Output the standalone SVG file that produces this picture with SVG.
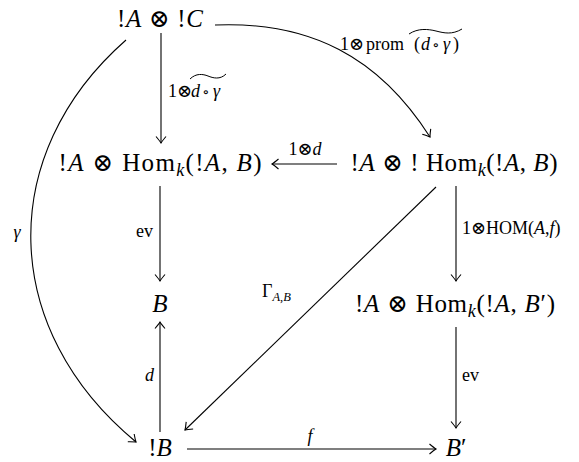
<svg xmlns="http://www.w3.org/2000/svg" width="579" height="462" viewBox="0 0 579 462">
<style>
text{font-family:"Liberation Serif","DejaVu Serif",serif;fill:#000}
.n{font-size:25px;text-anchor:middle}
.l{font-size:18px}
.i{font-style:italic}
.r{font-family:"DejaVu Serif",serif;font-size:15px}
.c path{fill:none;stroke:#000;stroke-width:1.1}
.t{fill:none;stroke:#000;stroke-width:1}
</style>
<defs>
<marker id="ah" markerUnits="userSpaceOnUse" markerWidth="14" markerHeight="14" viewBox="-8 -7 10 14" refX="0" refY="0" orient="auto">
<path d="M-6.5,-5 Q-2,-1.2 0,0 Q-2,1.2 -6.5,5" fill="none" stroke="#000" stroke-width="1.1"/>
</marker>
</defs>
<rect width="579" height="462" fill="#fff"/>
<g id="connectors" class="c">
<path d="M161,33 L161,143" marker-end="url(#ah)"/>
<path d="M337,164 L272,164" marker-end="url(#ah)"/>
<path d="M160,186 L160,281" marker-end="url(#ah)"/>
<path d="M160,432 L160,322" marker-end="url(#ah)"/>
<path d="M215,25 C310,21 379,57 430,137" marker-end="url(#ah)"/>
<path d="M456,186 L456,281" marker-end="url(#ah)"/>
<path d="M436,187 L185,430" marker-end="url(#ah)"/>
<path d="M126,40 C-5,155 0,330 136,442" marker-end="url(#ah)"/>
<path d="M456,327 L456,428" marker-end="url(#ah)"/>
<path d="M187,449 L436,449" marker-end="url(#ah)"/>
</g>
<g id="labels">
<text class="l" y="97"><tspan x="168">1</tspan><tspan x="177">⊗</tspan><tspan class="i" x="191">d</tspan><tspan class="r" x="202">∘</tspan><tspan class="i" x="213">γ</tspan></text>
<path class="t" d="M190,79 C196,73 203,74 208,76 S220,80 226,74"/>
<text class="l" y="50"><tspan x="340">1</tspan><tspan x="349">⊗</tspan><tspan x="366">prom</tspan><tspan x="414">(</tspan><tspan class="i" x="421">d</tspan><tspan class="r" x="432">∘</tspan><tspan class="i" x="443">γ</tspan><tspan x="453">)</tspan></text>
<path class="t" d="M409,34 C418,28 428,29 436,31 S452,35 462,29"/>
<text class="l" x="305" y="155" text-anchor="middle">1⊗<tspan class="i">d</tspan></text>
<text class="l" x="153" y="237" text-anchor="end">ev</text>
<text class="l i" x="17" y="238" text-anchor="middle">γ</text>
<text class="l" x="262" y="297">Γ<tspan class="i" font-size="12.5" dy="4">A</tspan><tspan font-size="12.5">,</tspan><tspan class="i" font-size="12.5">B</tspan></text>
<text class="l" x="462" y="234">1⊗HOM(<tspan class="i">A</tspan>,<tspan class="i">f</tspan>)</text>
<text class="l" x="462" y="381">ev</text>
<text class="l i" x="154" y="381" text-anchor="end">d</text>
<text class="l i" x="310" y="442" text-anchor="middle">f</text>
</g>
<g id="n1"><text class="n" x="160" y="27" textLength="86" lengthAdjust="spacing">!<tspan class="i">A</tspan> ⊗ !<tspan class="i">C</tspan></text></g>
<g id="n2"><text class="n" x="160" y="171" textLength="203" lengthAdjust="spacing">!<tspan class="i">A</tspan> ⊗ Hom<tspan class="i" font-size="18" dy="5">k</tspan><tspan dy="-5">(!</tspan><tspan class="i">A</tspan>, <tspan class="i">B</tspan>)</text></g>
<g id="n3"><text class="n" x="454" y="171" textLength="207" lengthAdjust="spacing">!<tspan class="i">A</tspan> ⊗ ! Hom<tspan class="i" font-size="18" dy="5">k</tspan><tspan dy="-5">(!</tspan><tspan class="i">A</tspan>, <tspan class="i">B</tspan>)</text></g>
<g id="n4"><text class="n i" x="160" y="312">B</text></g>
<g id="n5"><text class="n" x="455" y="312" textLength="200" lengthAdjust="spacing">!<tspan class="i">A</tspan> ⊗ Hom<tspan class="i" font-size="18" dy="5">k</tspan><tspan dy="-5">(!</tspan><tspan class="i">A</tspan>, <tspan class="i">B</tspan>′)</text></g>
<g id="n6"><text class="n" x="160" y="456">!<tspan class="i">B</tspan></text></g>
<g id="n7"><text class="n" x="456" y="456"><tspan class="i">B</tspan>′</text></g>
</svg>
